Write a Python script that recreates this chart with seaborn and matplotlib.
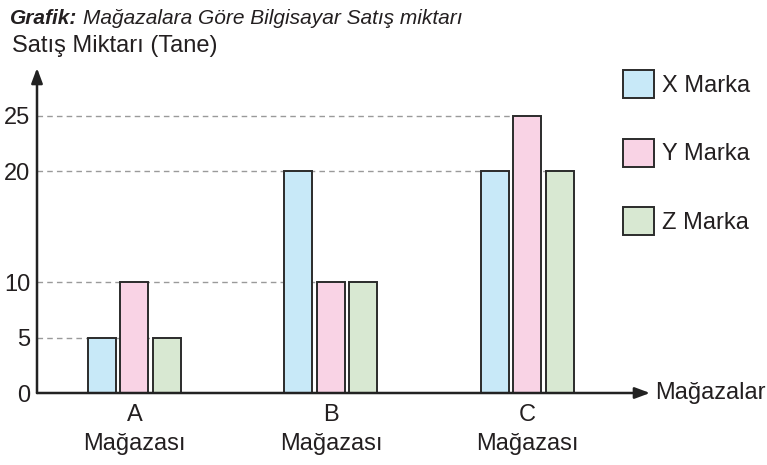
import matplotlib
matplotlib.use("Agg")
import matplotlib.pyplot as plt
import pandas as pd
import seaborn as sns

# veriler
stores = ["A\nMağazası", "B\nMağazası", "C\nMağazası"]
brands = ["X Marka", "Y Marka", "Z Marka"]
x_marka = [5, 20, 20]
y_marka = [10, 10, 25]
z_marka = [5, 10, 20]
y_ticks = [0, 5, 10, 20, 25]
colors = ["#c8e9f8", "#f9d3e5", "#d8e8d2"]

FONT = ["Liberation Sans", "DejaVu Sans"]
FS = 17
TXT = "#231f20"


def main():
    sns.set_theme(style="white")
    plt.rcParams["font.family"] = FONT

    df = pd.DataFrame({
        "store": stores * 3,
        "brand": [b for b in brands for _ in stores],
        "value": x_marka + y_marka + z_marka,
    })

    fig = plt.figure(figsize=(7.67, 4.65), dpi=100)
    ax = fig.add_axes([37 / 767, 72 / 465, 613 / 767, 325 / 465])

    sns.barplot(data=df, x="store", y="value", hue="brand", order=stores,
                hue_order=brands, palette=colors, width=0.496, gap=0.14,
                edgecolor="#2b2b2b", linewidth=1.4, saturation=1, ax=ax,
                zorder=3)

    ax.set_xlim(-0.496, 2.624)
    ax.set_ylim(0, 29.3)
    ax.set_xlabel("")
    ax.set_ylabel("")
    ax.set_yticks(y_ticks)
    ax.tick_params(axis="both", length=0, labelsize=FS, colors=TXT)
    ax.tick_params(axis="y", pad=5)
    ax.tick_params(axis="x", pad=8)
    for lbl in ax.get_xticklabels():
        lbl.set_linespacing(1.42)
    for s in ax.spines.values():
        s.set_visible(False)

    # kesikli çizgiler: eksenden o yükseklikteki en sağdaki çubuğa kadar
    bars = [p for p in ax.patches if p.get_height() > 0]
    x0 = ax.get_xlim()[0]
    for t in y_ticks[1:]:
        same = [p for p in bars if abs(p.get_height() - t) < 1e-6]
        if same:
            xe = max(p.get_x() for p in same)
            ax.hlines(t, x0, xe, colors="#9a9a9a", linestyles=(0, (4, 3)),
                      linewidth=1.0, zorder=1)

    # eksen okları
    arrow = dict(arrowstyle="-|>,head_length=0.75,head_width=0.28",
                 color="#222222", lw=1.8, shrinkA=0, shrinkB=0)
    ax.annotate("", xy=(0, 1), xytext=(0, 0), xycoords="axes fraction",
                arrowprops=arrow, annotation_clip=False)
    ax.annotate("", xy=(1, 0), xytext=(0, 0), xycoords="axes fraction",
                arrowprops=arrow, annotation_clip=False)

    ax.text(1.008, 0, "Mağazalar", transform=ax.transAxes, ha="left",
            va="center", fontsize=FS, color=TXT)

    # lejant
    leg = ax.legend(loc="upper left", bbox_to_anchor=(623 / 767, 1 - 70 / 465),
                    bbox_transform=fig.transFigure, frameon=False, fontsize=FS,
                    handlelength=1.3, handleheight=1.45, handletextpad=0.34,
                    labelspacing=1.72, borderpad=0, borderaxespad=0,
                    labelcolor=TXT)
    for h in leg.legend_handles:
        h.set_edgecolor("#2b2b2b")
        h.set_linewidth(1.4)

    # başlıklar
    t1 = fig.text(10 / 767, 1 - 18 / 465, "Grafik:", fontsize=15,
                  fontweight="bold", fontstyle="italic", va="center",
                  color=TXT)
    fig.canvas.draw()
    bb = t1.get_window_extent()
    fig.text((bb.x1 + 6) / 767, 1 - 18 / 465,
             "Mağazalara Göre Bilgisayar Satış miktarı", fontsize=15,
             fontstyle="italic", va="center", color=TXT)
    fig.text(12 / 767, 1 - 46 / 465, "Satış Miktarı (Tane)", fontsize=FS,
             va="center", color=TXT)

    fig.savefig("out.png", dpi=100)


if __name__ == "__main__":
    main()
